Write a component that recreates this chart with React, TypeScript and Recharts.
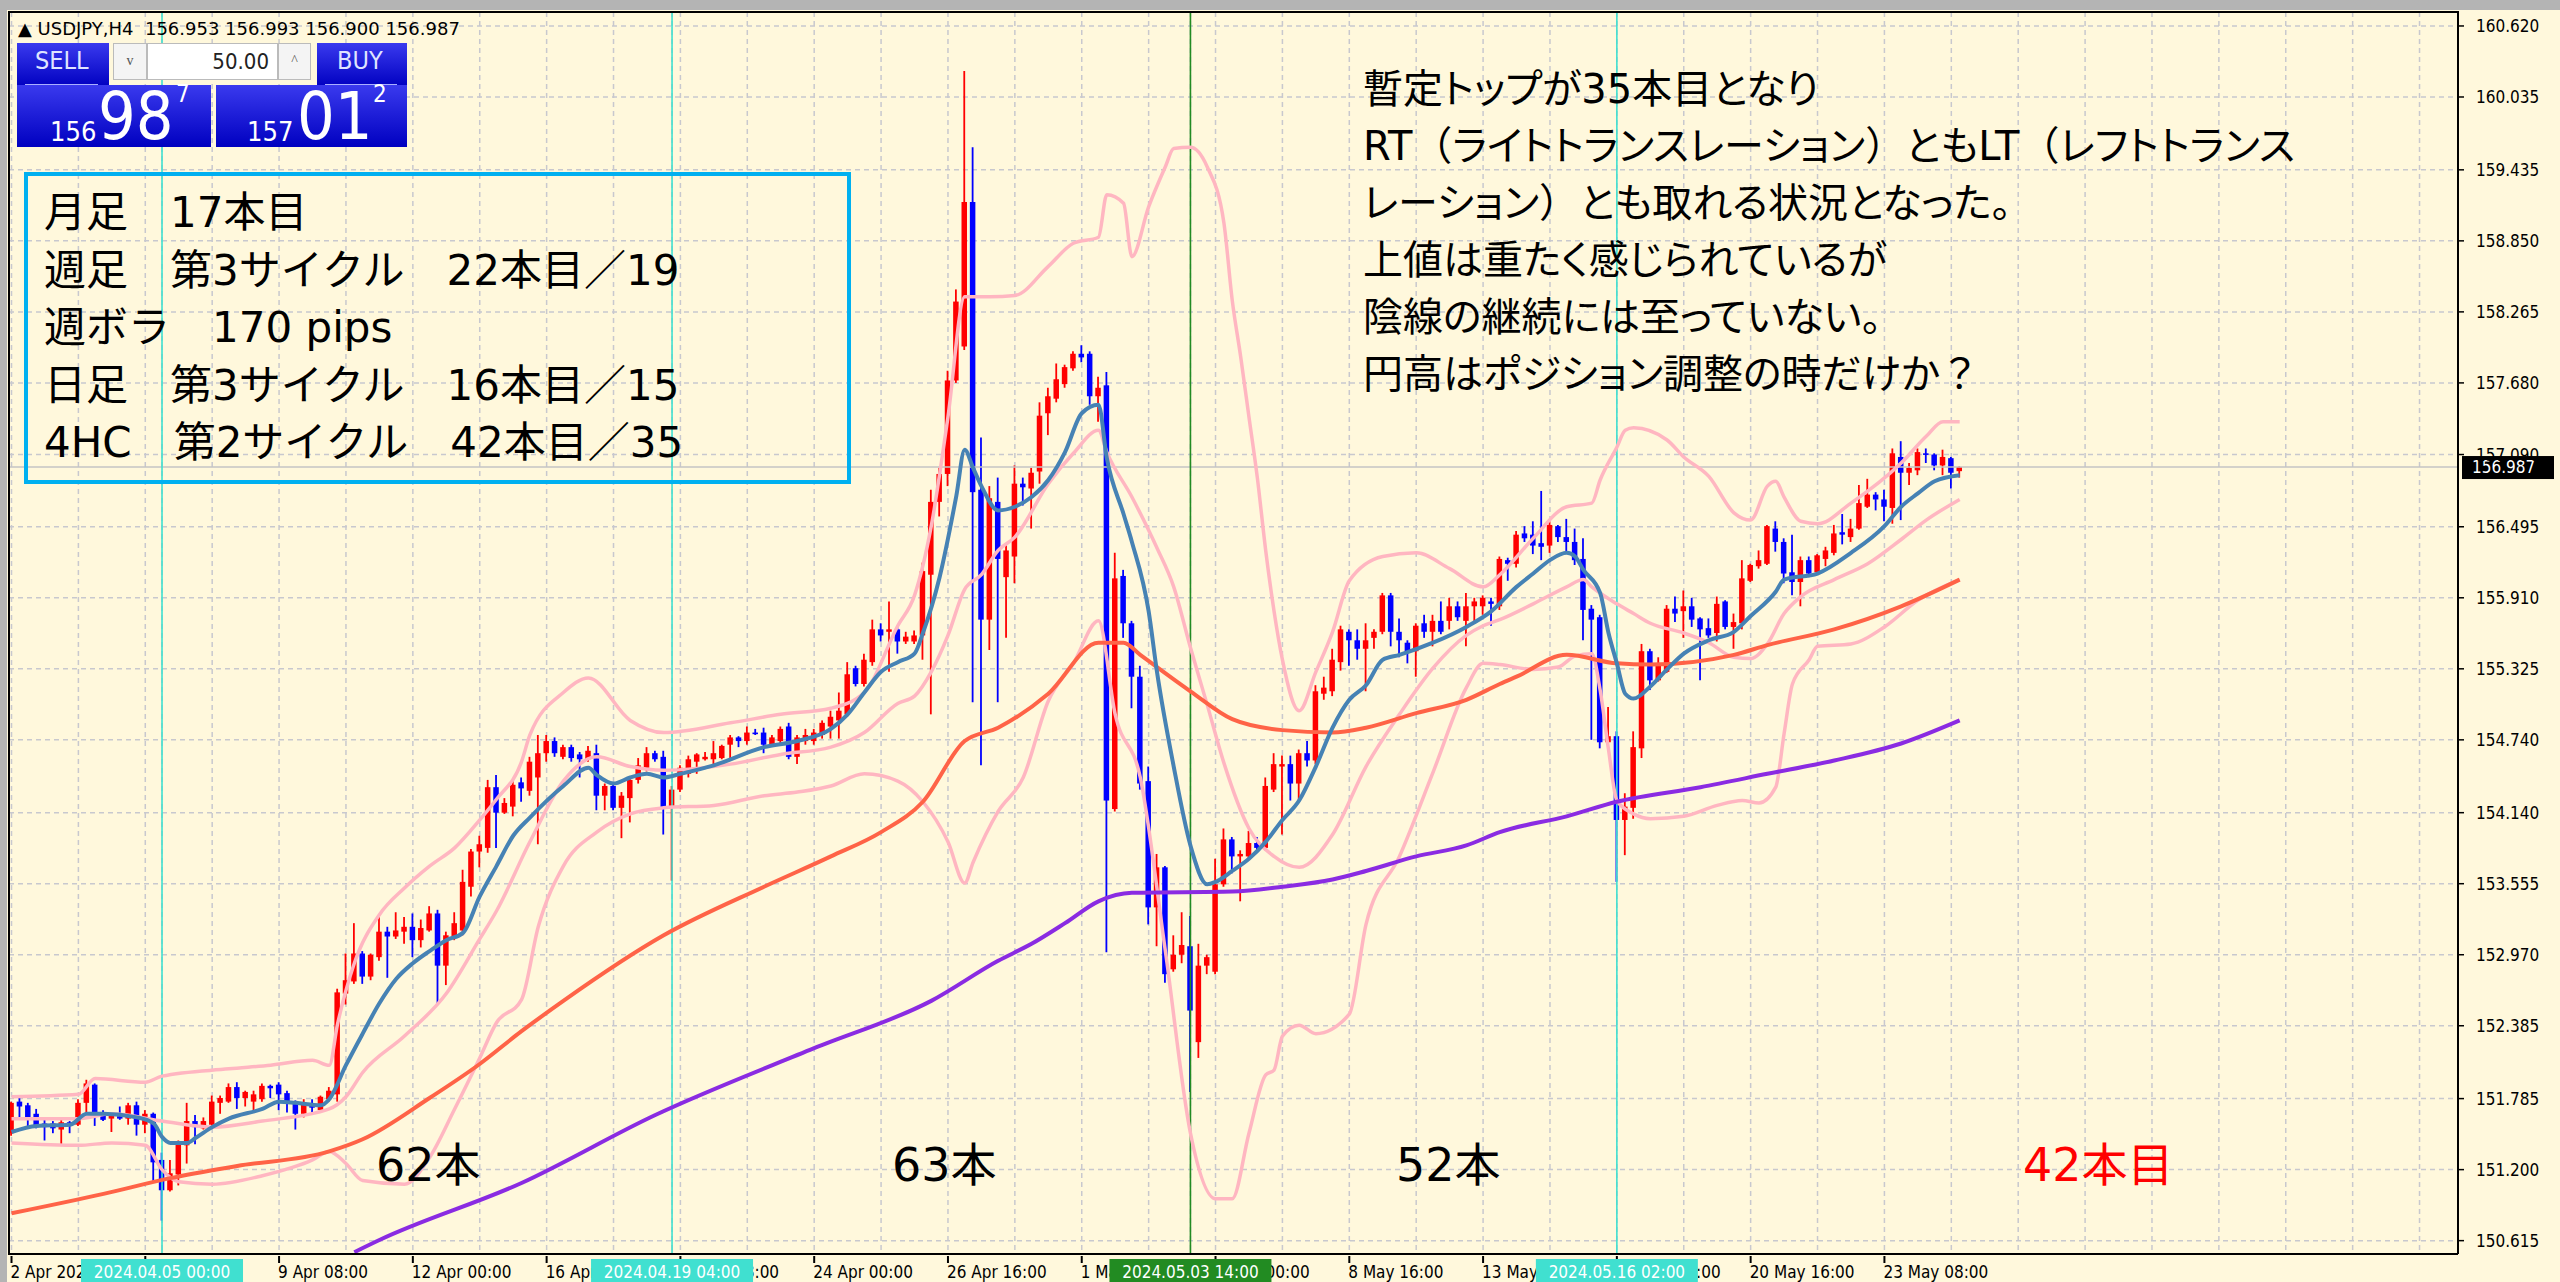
import React from "react";
import {
  ComposedChart,
  Bar,
  Line,
  XAxis,
  YAxis,
  CartesianGrid,
  ReferenceLine,
} from "recharts";

// USDJPY H4 bars, index 0 = 2 Apr 2024 00:00
const opens = [
  151.50, 151.76, 151.73, 151.66, 151.58, 151.58, 151.53, 151.59, 151.57, 151.75,
  151.90, 151.67, 151.62, 151.64, 151.62, 151.73, 151.57, 151.66, 151.28, 151.03,
  151.16, 151.40, 151.60, 151.54, 151.57, 151.75, 151.76, 151.88, 151.79, 151.76,
  151.78, 151.89, 151.90, 151.83, 151.75, 151.66, 151.74, 151.69, 151.78, 151.82,
  152.65, 152.75, 152.98, 152.79, 152.95, 153.16, 153.12, 153.16, 153.20, 153.09,
  153.17, 153.31, 152.88, 153.12, 153.17, 153.53, 153.82, 153.85, 154.35, 154.14,
  154.19, 154.39, 154.32, 154.43, 154.63, 154.73, 154.60, 154.68, 154.62, 154.58,
  154.63, 154.28, 154.36, 154.18, 154.26, 154.41, 154.51, 154.63, 154.60, 154.18,
  154.33, 154.46, 154.56, 154.58, 154.58, 154.59, 154.70, 154.76, 154.73, 154.80,
  154.80, 154.70, 154.73, 154.85, 154.60, 154.73, 154.73, 154.78, 154.85, 154.90,
  154.95, 155.33, 155.20, 155.38, 155.65, 155.63, 155.65, 155.55, 155.55, 155.60,
  156.10, 156.70, 156.93, 157.70, 157.98, 159.17, 156.80, 155.73, 156.70, 156.08,
  156.25, 156.85, 156.81, 156.95, 157.43, 157.55, 157.67, 157.80, 157.92, 157.92,
  157.57, 157.66, 154.17, 156.09, 155.70, 155.26, 154.40, 153.36, 153.69, 152.85,
  152.97, 153.04, 152.25, 152.88, 152.83, 153.55, 153.92, 153.78, 153.78, 153.89,
  153.85, 154.33, 154.52, 154.54, 154.38, 154.63, 154.57, 155.12, 155.14, 155.38,
  155.63, 155.56, 155.49, 155.58, 155.63, 155.93, 155.63, 155.54, 155.47, 155.70,
  155.63, 155.72, 155.72, 155.84, 155.72, 155.84, 155.84, 155.88, 155.84, 156.22,
  156.19, 156.44, 156.43, 156.36, 156.34, 156.50, 156.41, 156.37, 156.23, 155.82,
  155.75, 154.72, 154.77, 154.08, 154.18, 154.67, 155.47, 155.23, 155.30, 155.82,
  155.80, 155.84, 155.74, 155.66, 155.62, 155.88, 155.67, 155.70, 156.05, 156.17,
  156.19, 156.48, 156.37, 156.12, 156.04, 156.22, 156.12, 156.23, 156.28, 156.45,
  156.41, 156.48, 156.66, 156.76, 156.72, 156.65, 157.07, 156.94, 156.96, 157.10,
  157.09, 157.00, 157.06, 156.953,
];

const highs = [
  151.76, 151.80, 151.75, 151.70, 151.61, 151.60, 151.62, 151.60, 151.78, 151.94,
  151.91, 151.69, 151.67, 151.72, 151.75, 151.76, 151.69, 151.67, 151.34, 151.28,
  151.44, 151.75, 151.65, 151.63, 151.81, 151.81, 151.91, 151.92, 151.85, 151.85,
  151.91, 151.90, 151.92, 151.85, 151.77, 151.78, 151.78, 151.81, 151.88, 152.69,
  152.98, 153.23, 153.00, 152.98, 153.28, 153.20, 153.32, 153.28, 153.31, 153.26,
  153.37, 153.34, 153.16, 153.32, 153.67, 153.84, 153.95, 154.41, 154.45, 154.26,
  154.41, 154.43, 154.60, 154.78, 154.78, 154.76, 154.70, 154.70, 154.64, 154.69,
  154.70, 154.38, 154.38, 154.31, 154.43, 154.59, 154.68, 154.65, 154.65, 154.36,
  154.53, 154.61, 154.63, 154.64, 154.73, 154.70, 154.78, 154.77, 154.85, 154.83,
  154.84, 154.78, 154.85, 154.88, 154.78, 154.83, 154.83, 154.90, 154.98, 155.13,
  155.38, 155.35, 155.45, 155.73, 155.70, 155.88, 155.68, 155.63, 155.64, 156.20,
  156.80, 156.98, 157.78, 158.45, 160.25, 159.62, 157.23, 156.83, 156.90, 156.35,
  157.00, 156.90, 156.98, 157.52, 157.64, 157.84, 157.83, 157.94, 157.99, 157.94,
  157.73, 157.77, 156.28, 156.14, 155.72, 155.35, 154.52, 153.80, 153.70, 153.13,
  153.32, 153.29, 153.06, 152.97, 153.76, 154.01, 153.94, 153.83, 153.99, 153.94,
  154.43, 154.63, 154.61, 154.61, 154.66, 154.73, 155.19, 155.26, 155.49, 155.68,
  155.65, 155.65, 155.70, 155.65, 155.95, 155.95, 155.74, 155.56, 155.70, 155.77,
  155.77, 155.88, 155.91, 155.88, 155.95, 155.91, 155.93, 155.91, 156.25, 156.24,
  156.46, 156.50, 156.54, 156.79, 156.54, 156.51, 156.56, 156.48, 156.40, 155.85,
  155.77, 155.01, 154.81, 154.30, 154.81, 155.53, 155.49, 155.42, 155.85, 155.92,
  155.97, 155.91, 155.75, 155.74, 155.92, 155.89, 155.78, 156.22, 156.19, 156.30,
  156.51, 156.54, 156.40, 156.43, 156.25, 156.25, 156.27, 156.33, 156.51, 156.60,
  156.56, 156.84, 156.89, 156.78, 156.80, 157.14, 157.20, 157.02, 157.14, 157.14,
  157.10, 157.13, 157.07, 156.993,
];

const lows = [
  151.48, 151.63, 151.54, 151.54, 151.44, 151.50, 151.41, 151.50, 151.56, 151.66,
  151.56, 151.60, 151.51, 151.61, 151.57, 151.48, 151.50, 151.09, 150.78, 151.02,
  151.07, 151.25, 151.41, 151.53, 151.56, 151.66, 151.75, 151.70, 151.72, 151.67,
  151.76, 151.79, 151.69, 151.67, 151.53, 151.63, 151.66, 151.67, 151.76, 151.76,
  152.56, 152.73, 152.73, 152.76, 152.92, 152.78, 153.10, 153.06, 152.95, 153.03,
  153.16, 152.57, 152.72, 153.09, 153.13, 153.45, 153.69, 153.81, 153.85, 154.13,
  154.11, 154.23, 154.28, 153.88, 154.56, 154.60, 154.58, 154.56, 154.43, 154.56,
  154.16, 154.16, 154.16, 153.93, 154.06, 154.38, 154.48, 154.56, 153.96, 153.58,
  154.31, 154.43, 154.46, 154.57, 154.53, 154.58, 154.58, 154.68, 154.70, 154.78,
  154.63, 154.69, 154.70, 154.58, 154.54, 154.70, 154.70, 154.75, 154.75, 154.75,
  154.93, 155.18, 155.18, 155.35, 155.55, 155.30, 155.45, 155.53, 155.53, 155.40,
  154.95, 156.58, 156.83, 157.68, 157.95, 155.05, 154.53, 155.48, 155.05, 155.58,
  156.03, 156.67, 156.48, 156.85, 157.25, 157.52, 157.64, 157.78, 157.85, 157.50,
  157.36, 152.99, 154.15, 155.58, 155.00, 154.33, 153.22, 153.04, 152.74, 152.83,
  152.90, 151.84, 152.12, 152.81, 152.81, 153.53, 153.64, 153.41, 153.76, 153.83,
  153.83, 154.31, 153.96, 154.24, 154.24, 154.52, 154.54, 155.07, 155.10, 155.31,
  155.35, 155.40, 155.14, 155.49, 155.61, 155.51, 155.42, 155.37, 155.26, 155.58,
  155.51, 155.61, 155.65, 155.72, 155.51, 155.70, 155.77, 155.68, 155.81, 156.05,
  156.16, 156.37, 156.27, 156.22, 156.28, 156.37, 156.29, 156.18, 155.56, 154.74,
  154.67, 154.70, 153.57, 153.79, 154.09, 154.59, 155.15, 155.22, 155.29, 155.71,
  155.58, 155.67, 155.23, 155.58, 155.55, 155.65, 155.49, 155.65, 156.04, 156.15,
  156.18, 156.29, 156.03, 155.93, 155.84, 156.08, 156.11, 156.17, 156.26, 156.35,
  156.37, 156.47, 156.65, 156.63, 156.54, 156.52, 156.55, 156.84, 156.92, 157.02,
  156.96, 156.92, 156.81, 156.900,
];

const closes = [
  151.75, 151.72, 151.63, 151.56, 151.55, 151.54, 151.59, 151.56, 151.75, 151.91,
  151.66, 151.61, 151.65, 151.62, 151.73, 151.57, 151.66, 151.26, 151.03, 151.17,
  151.41, 151.60, 151.55, 151.60, 151.76, 151.79, 151.88, 151.79, 151.84, 151.82,
  151.89, 151.87, 151.82, 151.76, 151.66, 151.75, 151.71, 151.80, 151.85, 152.66,
  152.76, 152.98, 152.79, 152.97, 153.16, 153.12, 153.17, 153.20, 153.09, 153.19,
  153.31, 152.88, 153.13, 153.23, 153.57, 153.82, 153.88, 154.35, 154.14, 154.22,
  154.37, 154.34, 154.56, 154.63, 154.73, 154.63, 154.68, 154.59, 154.58, 154.65,
  154.28, 154.36, 154.18, 154.28, 154.41, 154.53, 154.63, 154.58, 154.18, 154.33,
  154.51, 154.58, 154.62, 154.60, 154.63, 154.69, 154.76, 154.73, 154.80, 154.79,
  154.70, 154.76, 154.83, 154.60, 154.76, 154.78, 154.80, 154.88, 154.93, 154.98,
  155.28, 155.20, 155.40, 155.65, 155.60, 155.65, 155.55, 155.59, 155.60, 156.13,
  156.70, 156.93, 157.70, 158.35, 159.17, 156.78, 155.73, 156.73, 156.23, 156.30,
  156.85, 156.82, 156.94, 157.41, 157.57, 157.71, 157.81, 157.92, 157.89, 157.57,
  157.64, 154.24, 156.07, 155.70, 155.26, 154.38, 153.36, 153.69, 152.81, 152.97,
  153.05, 152.51, 152.88, 152.95, 153.55, 153.92, 153.78, 153.80, 153.89, 153.85,
  154.36, 154.54, 154.54, 154.38, 154.63, 154.57, 155.14, 155.17, 155.40, 155.65,
  155.56, 155.49, 155.56, 155.63, 155.93, 155.63, 155.56, 155.47, 155.68, 155.63,
  155.72, 155.63, 155.84, 155.75, 155.84, 155.88, 155.91, 155.86, 156.23, 156.19,
  156.43, 156.40, 156.34, 156.33, 156.51, 156.41, 156.37, 156.22, 155.81, 155.73,
  154.72, 154.77, 154.08, 154.19, 154.68, 155.47, 155.23, 155.36, 155.82, 155.78,
  155.84, 155.73, 155.65, 155.60, 155.86, 155.67, 155.71, 156.07, 156.18, 156.22,
  156.50, 156.37, 156.11, 156.04, 156.22, 156.11, 156.26, 156.30, 156.44, 156.43,
  156.48, 156.69, 156.76, 156.72, 156.66, 157.10, 156.94, 156.98, 157.11, 157.09,
  157.00, 157.07, 156.94, 156.987,
];

// indicator lines: [bar index, price]
const maFast: [number, number][] = [
  [0, 151.51], [3, 151.56], [7, 151.57], [9, 151.66], [11, 151.66], [15, 151.63],
  [17, 151.58], [18, 151.47], [19, 151.42], [21, 151.42], [22, 151.46], [24, 151.55],
  [26, 151.62], [30, 151.70], [32, 151.76], [34, 151.75], [37, 151.73], [38, 151.78],
  [40, 152.06], [42, 152.32], [44, 152.57], [46, 152.77], [48, 152.90], [50, 153.0],
  [52, 153.09], [54, 153.15], [56, 153.45], [58, 153.70], [60, 153.95], [62, 154.10],
  [66, 154.36], [69, 154.51], [70, 154.45], [72, 154.38], [74, 154.43], [76, 154.46],
  [78, 154.43], [80, 154.46], [84, 154.53], [90, 154.68], [94, 154.73], [98, 154.83],
  [100, 154.95], [102, 155.13], [104, 155.30], [106, 155.38], [108, 155.45], [109, 155.62],
  [111, 156.08], [113, 156.75], [114, 157.13], [115, 156.98], [116, 156.83], [118, 156.63],
  [120, 156.66], [122, 156.74], [124, 156.88], [126, 157.11], [128, 157.43], [130, 157.50],
  [131, 157.06], [133, 156.60], [134, 156.37], [136, 155.80], [137, 155.30], [139, 154.52],
  [141, 153.87], [143, 153.55], [144, 153.57], [146, 153.66], [148, 153.76], [150, 153.90],
  [152, 154.08], [154, 154.24], [156, 154.52], [158, 154.84], [160, 155.07], [162, 155.19],
  [164, 155.40], [166, 155.44], [170, 155.54], [174, 155.67], [177, 155.80], [180, 156.0],
  [182, 156.11], [184, 156.22], [186, 156.28], [187, 156.25], [188, 156.14], [190, 155.95],
  [191, 155.62], [192, 155.37], [193, 155.12], [194, 155.08], [196, 155.18], [198, 155.32],
  [200, 155.45], [203, 155.56], [206, 155.63], [208, 155.76], [211, 155.96], [212, 156.06],
  [216, 156.11], [220, 156.28], [224, 156.50], [226, 156.66], [228, 156.77], [230, 156.87],
  [233, 156.92],
];

const maMid: [number, number][] = [
  [0, 150.84], [11, 151.0], [19, 151.13], [27, 151.23], [38, 151.35], [42, 151.45],
  [50, 151.79], [56, 152.07], [61, 152.34], [66, 152.59], [78, 153.13], [90, 153.53],
  [98, 153.78], [104, 153.98], [109, 154.23], [114, 154.73], [118, 154.84], [124, 155.12],
  [130, 155.54], [133, 155.54], [135, 155.44], [141, 155.14], [146, 154.91], [152, 154.82],
  [158, 154.80], [162, 154.84], [168, 154.96], [174, 155.07], [178, 155.20], [180, 155.26],
  [186, 155.44], [192, 155.37], [196, 155.36], [206, 155.44], [210, 155.52], [218, 155.65],
  [226, 155.84], [233, 156.06],
];

const maSlow: [number, number][] = [
  [41, 150.52], [44, 150.62], [61, 151.09], [77, 151.65], [96, 152.2], [110, 152.59],
  [118, 152.92], [122, 153.06], [126, 153.23], [130, 153.41], [134, 153.48], [146, 153.49],
  [152, 153.53], [158, 153.59], [162, 153.66], [168, 153.78], [174, 153.87], [178, 153.98],
  [186, 154.11], [192, 154.23], [202, 154.35], [210, 154.46], [218, 154.57], [226, 154.71],
  [233, 154.90],
];

const bbUpper: [number, number][] = [
  [0, 151.80], [8, 151.82], [10, 151.95], [16, 151.92], [18, 151.97], [26, 152.03],
  [31, 152.06], [36, 152.10], [38, 152.06], [39, 152.4], [41, 152.9], [44, 153.3],
  [47, 153.52], [50, 153.7], [53, 153.85], [56, 154.08], [58, 154.25], [61, 154.56],
  [62, 154.78], [66, 155.13], [69, 155.25], [74, 154.90], [78, 154.80], [86, 154.88],
  [92, 154.95], [98, 155.0], [102, 155.13], [106, 155.68], [108, 155.93], [110, 156.5],
  [112, 157.4], [114, 158.39], [117, 158.39], [120, 158.40], [124, 158.64], [127, 158.83],
  [130, 158.88], [131, 159.23], [133, 159.16], [134, 158.72], [136, 159.13], [138, 159.46],
  [139, 159.61], [141, 159.62], [143, 159.46], [145, 159.0], [146, 158.36], [147, 157.9],
  [148, 157.4], [149, 156.9], [150, 156.3], [151, 155.8], [152, 155.4], [154, 154.98],
  [156, 155.3], [158, 155.63], [160, 156.05], [164, 156.25], [168, 156.28], [172, 156.15],
  [176, 156.0], [178, 156.1], [182, 156.4], [186, 156.66], [189, 156.69], [190, 156.88],
  [192, 157.15], [193, 157.29], [194, 157.31], [198, 157.21], [200, 157.07], [203, 156.91],
  [206, 156.61], [208, 156.55], [210, 156.83], [211, 156.87], [212, 156.74], [214, 156.54],
  [216, 156.52], [220, 156.69], [226, 157.02], [229, 157.24], [231, 157.36], [233, 157.36],
];

const bbMiddle: [number, number][] = [
  [0, 151.62], [8, 151.62], [12, 151.66], [18, 151.60], [24, 151.55], [30, 151.6],
  [38, 151.7], [40, 151.8], [42, 152.0], [47, 152.3], [52, 152.65], [56, 153.1],
  [58, 153.33], [62, 153.9], [66, 154.4], [70, 154.6], [74, 154.52], [78, 154.49],
  [86, 154.54], [92, 154.62], [98, 154.68], [102, 154.8], [106, 155.04], [108, 155.1],
  [110, 155.3], [112, 155.6], [114, 155.98], [116, 156.1], [118, 156.3], [120, 156.41],
  [124, 156.85], [127, 157.1], [130, 157.29], [131, 157.11], [134, 156.74], [137, 156.32],
  [139, 156.0], [141, 155.5], [143, 155.03], [145, 154.55], [148, 154.01], [151, 153.78],
  [154, 153.69], [158, 153.96], [162, 154.52], [166, 154.95], [170, 155.33], [174, 155.6],
  [176, 155.68], [178, 155.73], [182, 155.86], [186, 156.0], [188, 156.06], [189, 156.0],
  [192, 155.86], [194, 155.78], [196, 155.70], [200, 155.62], [203, 155.54], [206, 155.42],
  [208, 155.41], [210, 155.53], [212, 155.78], [214, 155.92], [218, 156.06], [222, 156.19],
  [226, 156.39], [229, 156.55], [233, 156.72],
];

const bbLower: [number, number][] = [
  [0, 151.42], [8, 151.40], [12, 151.42], [16, 151.40], [18, 151.2], [20, 151.1],
  [24, 151.08], [30, 151.15], [36, 151.28], [38, 151.35], [40, 151.25], [42, 151.11],
  [47, 151.08], [50, 151.30], [53, 151.7], [56, 152.12], [58, 152.41], [61, 152.6],
  [63, 153.2], [66, 153.7], [70, 153.98], [74, 154.13], [78, 154.18], [84, 154.2],
  [90, 154.28], [94, 154.31], [98, 154.36], [102, 154.46], [106, 154.4], [109, 154.23],
  [112, 153.9], [114, 153.56], [115, 153.73], [118, 154.15], [121, 154.43], [124, 155.06],
  [127, 155.37], [130, 155.72], [132, 154.95], [135, 154.43], [138, 153.0], [141, 151.5],
  [144, 150.96], [146, 150.96], [148, 151.5], [150, 151.98], [151, 152.02], [152, 152.3],
  [154, 152.39], [156, 152.32], [160, 152.48], [162, 153.22], [166, 153.78], [170, 154.47],
  [174, 155.17], [176, 155.37], [178, 155.36], [182, 155.32], [185, 155.34], [187, 155.43],
  [189, 155.45], [190, 155.15], [191, 154.66], [192, 154.24], [194, 154.13], [196, 154.09],
  [200, 154.11], [204, 154.20], [207, 154.24], [209, 154.22], [211, 154.35], [212, 154.79],
  [213, 155.20], [215, 155.40], [216, 155.51], [220, 155.53], [224, 155.67], [228, 155.89],
  [233, 156.06],
];

const yTicks = [
  160.62, 160.035, 159.435, 158.85, 158.265, 157.68, 157.09, 156.495, 155.91,
  155.325, 154.74, 154.14, 153.555, 152.97, 152.385, 151.785, 151.2, 150.615,
];

const xLabelIdx = [0, 16, 32, 48, 64, 80, 96, 112, 128, 144, 160, 176, 192, 208, 224];
const xLabels = [
  "2 Apr 2024", "4 Apr 16:00", "9 Apr 08:00", "12 Apr 00:00", "16 Apr 16:00",
  "19 Apr 08:00", "24 Apr 00:00", "26 Apr 16:00", "1 May 08:00", "6 May 00:00",
  "8 May 16:00", "13 May 08:00", "16 May 00:00", "20 May 16:00", "23 May 08:00",
];

const markerIdx = [18, 79, 141, 192];
const markerLabels = ["2024.04.05 00:00", "2024.04.19 04:00", "2024.05.03 14:00", "2024.05.16 02:00"];
const markerColors = ["#40E0D0", "#40E0D0", "#228B22", "#40E0D0"];

const boxLines = [
  "月足　17本目",
  "週足　第3サイクル　22本目／19",
  "週ボラ　170 pips",
  "日足　第3サイクル　16本目／15",
  "4HC　第2サイクル　42本目／35",
];

const noteLines = [
  "暫定トップが35本目となり",
  "RT（ライトトランスレーション）ともLT（レフトトランス",
  "レーション）とも取れる状況となった。",
  "上値は重たく感じられているが",
  "陰線の継続には至っていない。",
  "円高はポジション調整の時だけか？",
];

const rows: any[] = opens.map((o, i) => ({
  i,
  open: o,
  high: highs[i],
  low: lows[i],
  close: closes[i],
}));
const attach = (pairs: [number, number][], key: string) =>
  pairs.forEach(([idx, v]) => {
    rows[idx][key] = v;
  });
attach(maFast, "maFast");
attach(maMid, "maMid");
attach(maSlow, "maSlow");
attach(bbUpper, "bbUpper");
attach(bbMiddle, "bbMiddle");
attach(bbLower, "bbLower");

const gridTicks: number[] = [];
for (let t = 0; t <= 288; t += 8) gridTicks.push(t);
const xTicks = gridTicks.filter((t) => !markerIdx.includes(t)).concat(markerIdx);

const axisFont = '"DejaVu Sans Condensed", "Liberation Sans Narrow", "DejaVu Sans", sans-serif';
const jpFont = '"DejaVu Sans", "Noto Sans CJK JP", sans-serif';

const Candle = (props: any) => {
  const { x, y, width, height, payload } = props;
  if (x == null || y == null || !payload) return null;
  const { open, close, high, low } = payload;
  const top = Math.min(y, y + height);
  const h = Math.abs(height);
  const k = high > low ? h / (high - low) : 0;
  const cx = x + width / 2;
  const color = close >= open ? "#FF0000" : "#0000FF";
  const bTop = top + (high - Math.max(open, close)) * k;
  const bBot = top + (high - Math.min(open, close)) * k;
  return (
    <g>
      <line x1={cx} x2={cx} y1={top} y2={top + h} stroke={color} strokeWidth={1.8} />
      <rect x={x} y={bTop} width={width} height={Math.max(bBot - bTop, 1.6)} fill={color} />
    </g>
  );
};

const XTick = (props: any) => {
  const { x, y, payload } = props;
  const v = payload.value;
  const li = xLabelIdx.indexOf(v);
  const mi = markerIdx.indexOf(v);
  return (
    <g>
      {li >= 0 && (
        <g>
          <line x1={x} x2={x} y1={y} y2={y + 7} stroke="#000" strokeWidth={2} />
          <text x={x - 1} y={y + 22} fontSize={17} fontFamily={axisFont} fill="#000" textAnchor="start">
            {xLabels[li]}
          </text>
        </g>
      )}
      {mi >= 0 && (
        <g>
          <rect x={x - 81} y={y + 3} width={162} height={26} fill={markerColors[mi]} />
          <text x={x} y={y + 22} fontSize={17} fontFamily={axisFont} fill="#FFFFFF" textAnchor="middle">
            {markerLabels[mi]}
          </text>
        </g>
      )}
    </g>
  );
};

const PriceTag = (props: any) => {
  const vb = props.viewBox || {};
  const right = (vb.x || 0) + (vb.width || 0);
  const y = vb.y || 0;
  return (
    <g>
      <rect x={right + 4} y={y - 11} width={92} height={23} fill="#000" />
      <text x={right + 14} y={y + 6} fontSize={17} fontFamily={axisFont} fill="#FFF">
        {closes[closes.length - 1].toFixed(3)}
      </text>
    </g>
  );
};

// proportional kana, but keep the full-width brackets and question mark wide
const NoteLine = ({ text }: { text: string }) => (
  <div>
    {text.split(/([（）？])/).map((part, k) =>
      /^[（）？]$/.test(part) ? (
        <span key={k} style={{ fontFeatureSettings: "normal" }}>
          {part}
        </span>
      ) : (
        <span key={k}>{part}</span>
      )
    )}
  </div>
);

const TradePanel = () => {
  const blue = "linear-gradient(#3a3aee, #0000c0)";
  const box: React.CSSProperties = { position: "absolute", background: blue, color: "#fff", fontFamily: axisFont };
  return (
    <>
      <div style={{ ...box, left: 17, top: 43, width: 92, height: 44 }} />
      <div style={{ ...box, left: 17, top: 85, width: 194, height: 62 }} />
      <div style={{ ...box, left: 317, top: 43, width: 90, height: 44 }} />
      <div style={{ ...box, left: 216, top: 85, width: 191, height: 62 }} />
      <div style={{ position: "absolute", left: 35, top: 46, fontSize: 25, color: "#dfe4ff", fontFamily: axisFont }}>SELL</div>
      <div style={{ position: "absolute", left: 337, top: 46, fontSize: 25, color: "#dfe4ff", fontFamily: axisFont }}>BUY</div>
      <div style={{ position: "absolute", left: 25, top: 84, width: 73, height: 1, background: "#aab0ff" }} />
      <div style={{ position: "absolute", left: 325, top: 84, width: 72, height: 1, background: "#aab0ff" }} />
      <div style={{ position: "absolute", left: 113, top: 43, width: 34, height: 37, background: "#f4f4f4", border: "1px solid #bbb", boxSizing: "border-box", textAlign: "center", fontSize: 14, lineHeight: "34px", color: "#555" }}>v</div>
      <div style={{ position: "absolute", left: 147, top: 43, width: 131, height: 37, background: "#fff", border: "1px solid #bbb", boxSizing: "border-box", textAlign: "right", paddingRight: 8, fontSize: 22, lineHeight: "35px", fontFamily: axisFont, color: "#222" }}>50.00</div>
      <div style={{ position: "absolute", left: 278, top: 43, width: 33, height: 37, background: "#f4f4f4", border: "1px solid #bbb", boxSizing: "border-box", textAlign: "center", fontSize: 14, lineHeight: "34px", color: "#555" }}>^</div>
      <div style={{ position: "absolute", left: 50, top: 116, fontSize: 27, color: "#fff", fontFamily: axisFont }}>156</div>
      <div style={{ position: "absolute", left: 98, top: 82, fontSize: 66, color: "#fff", fontFamily: axisFont, lineHeight: "70px" }}>98</div>
      <div style={{ position: "absolute", left: 176, top: 80, fontSize: 24, color: "#fff", fontFamily: axisFont }}>7</div>
      <div style={{ position: "absolute", left: 247, top: 116, fontSize: 27, color: "#fff", fontFamily: axisFont }}>157</div>
      <div style={{ position: "absolute", left: 297, top: 82, fontSize: 66, color: "#fff", fontFamily: axisFont, lineHeight: "70px" }}>01</div>
      <div style={{ position: "absolute", left: 373, top: 80, fontSize: 24, color: "#fff", fontFamily: axisFont }}>2</div>
    </>
  );
};

const App = () => {
  const pink = "#FFB6C1";
  return (
    <div
      style={{
        position: "absolute",
        left: 0,
        top: 0,
        width: 2560,
        height: 1282,
        background: "#FFF8DC",
        overflow: "hidden",
      }}
    >
      <ComposedChart
        width={2560}
        height={1282}
        data={rows}
        margin={{ top: 12, right: 0, bottom: 0, left: 9 }}
      >
        <CartesianGrid stroke="#C8C8CE" strokeDasharray="5 4" strokeWidth={1.5} />
        <XAxis
          dataKey="i"
          type="number"
          domain={[-0.3, 292.6]}
          allowDataOverflow
          ticks={xTicks}
          interval={0}
          height={28}
          tickLine={false}
          tickSize={0}
          tick={<XTick />}
          axisLine={{ stroke: "#000", strokeWidth: 2 }}
        />
        <YAxis
          orientation="right"
          type="number"
          domain={[150.505, 160.735]}
          allowDataOverflow
          ticks={yTicks}
          interval={0}
          width={102}
          tickSize={6}
          tickMargin={12}
          tickFormatter={(v: number) => v.toFixed(3)}
          tick={{ fill: "#000", fontSize: 17, fontFamily: axisFont }}
          tickLine={{ stroke: "#000", strokeWidth: 1.5 }}
          axisLine={{ stroke: "#000", strokeWidth: 2 }}
        />
        <ReferenceLine y={closes[closes.length - 1]} stroke="#C4C4C4" strokeWidth={1.5} label={<PriceTag />} />
        {markerIdx.map((m, k) => (
          <ReferenceLine key={m} x={m} stroke={markerColors[k]} strokeWidth={1.6} />
        ))}
        <Bar
          dataKey={(d: any) => [d.low, d.high]}
          shape={<Candle />}
          barSize={5.5}
          isAnimationActive={false}
        />
        <Line dataKey="bbUpper" stroke={pink} strokeWidth={3.5} dot={false} connectNulls type="monotone" isAnimationActive={false} />
        <Line dataKey="bbMiddle" stroke={pink} strokeWidth={3.5} dot={false} connectNulls type="monotone" isAnimationActive={false} />
        <Line dataKey="bbLower" stroke={pink} strokeWidth={3.5} dot={false} connectNulls type="monotone" isAnimationActive={false} />
        <Line dataKey="maSlow" stroke="#8A2BE2" strokeWidth={4} dot={false} connectNulls type="monotone" isAnimationActive={false} />
        <Line dataKey="maMid" stroke="#FF6347" strokeWidth={4} dot={false} connectNulls type="monotone" isAnimationActive={false} />
        <Line dataKey="maFast" stroke="#4682B4" strokeWidth={4} dot={false} connectNulls type="monotone" isAnimationActive={false} />
      </ComposedChart>

      {/* window chrome */}
      <div style={{ position: "absolute", left: 0, top: 0, width: 2560, height: 10, background: "#B4B4B4" }} />
      <div style={{ position: "absolute", left: 0, top: 0, width: 7, height: 1282, background: "#B4B4B4" }} />
      <div style={{ position: "absolute", left: 9, top: 11, width: 2450, height: 2, background: "#000" }} />
      <div style={{ position: "absolute", left: 8, top: 11, width: 2, height: 1244, background: "#000" }} />

      <div style={{ position: "absolute", left: 18, top: 18, fontSize: 18, fontFamily: '"DejaVu Sans", sans-serif', color: "#000", whiteSpace: "pre" }}>
        {"▲ USDJPY,H4  156.953 156.993 156.900 156.987"}
      </div>
      <TradePanel />

      <div
        style={{
          position: "absolute",
          left: 24,
          top: 172,
          width: 827,
          height: 312,
          border: "4px solid #00B0F0",
          boxSizing: "border-box",
          paddingLeft: 16,
          paddingTop: 8,
          fontFamily: jpFont,
          fontSize: 42,
          lineHeight: "57.5px",
          color: "#000",
          whiteSpace: "pre",
        }}
      >
        {boxLines.map((l) => (
          <div key={l}>{l}</div>
        ))}
      </div>

      <div
        style={{
          position: "absolute",
          left: 1363,
          top: 61,
          fontFamily: jpFont,
          fontSize: 40,
          lineHeight: "57px",
          color: "#000",
          whiteSpace: "pre",
          fontFeatureSettings: '"palt"',
        }}
      >
        {noteLines.map((l) => (
          <NoteLine key={l} text={l} />
        ))}
      </div>

      {[
        { t: "62本", x: 376, c: "#000" },
        { t: "63本", x: 892, c: "#000" },
        { t: "52本", x: 1396, c: "#000" },
        { t: "42本目", x: 2023, c: "#FF0000" },
      ].map((a) => (
        <div
          key={a.t}
          style={{
            position: "absolute",
            left: a.x,
            top: 1134,
            fontFamily: jpFont,
            fontSize: 46,
            lineHeight: "62px",
            color: a.c,
          }}
        >
          {a.t}
        </div>
      ))}
    </div>
  );
};

export default App;
